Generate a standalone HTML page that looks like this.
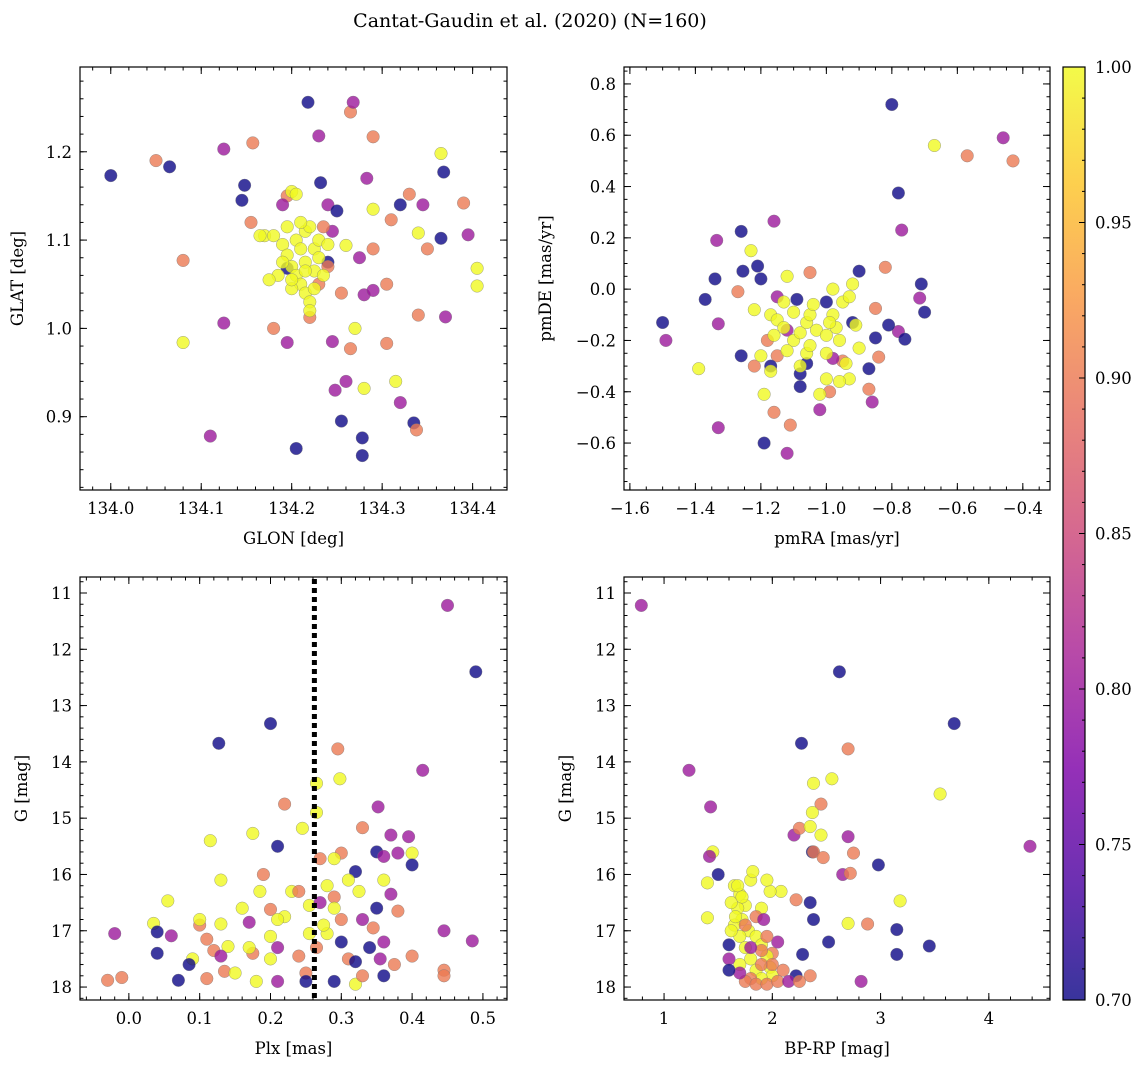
<!DOCTYPE html>
<html><head><meta charset="utf-8">
<style>
html,body{margin:0;padding:0;background:#fff;}
svg{display:block;font-family:"DejaVu Serif","Liberation Serif",serif;}
</style></head>
<body>
<svg id="fig" width="1148" height="1067" viewBox="0 0 1148 1067" xmlns="http://www.w3.org/2000/svg">
<defs>
<linearGradient id="plasma" x1="0" y1="1" x2="0" y2="0">
<stop offset="0" stop-color="#0d0887"/><stop offset="0.125" stop-color="#4c02a1"/>
<stop offset="0.25" stop-color="#7e03a8"/><stop offset="0.375" stop-color="#a92395"/>
<stop offset="0.5" stop-color="#cc4778"/><stop offset="0.625" stop-color="#e56b5d"/>
<stop offset="0.75" stop-color="#f89540"/><stop offset="0.875" stop-color="#fdc527"/>
<stop offset="1" stop-color="#f0f921"/>
</linearGradient>
</defs>
<text x="530" y="27" font-size="19" text-anchor="middle">Cantat-Gaudin et al. (2020) (N=160)</text>
</svg>
<script>
// ---------- data ----------
const p1_glon=[134.00,134.05,134.065,134.08,134.08,134.11,134.125,134.125,134.145,134.148,134.155,134.157,134.17,134.18,134.195,134.205,134.218,134.23,134.232,134.24,134.245,134.248,134.25,134.255,134.26,134.26,134.265,134.268,134.265,134.278,134.278,134.28,134.28,134.283,134.29,134.29,134.29,134.29,134.305,134.305,134.31,134.315,134.32,134.32,134.33,134.335,134.338,134.34,134.34,134.345,134.35,134.365,134.365,134.368,134.37,134.39,134.395,134.405,134.405,134.27,134.255,134.245,134.24,134.275,
134.195,134.235,134.24,134.195,134.23,134.22,134.19,
134.2,134.205,134.18,134.19,134.195,134.2,134.205,134.21,134.215,134.22,134.22,134.225,134.23,134.215,134.22,134.205,134.19,134.185,134.2,134.21,134.215,134.225,134.23,134.235,134.195,134.21,134.225,134.2,134.175,134.24,134.165,134.215];
const p1_glat=[1.173,1.19,1.183,1.077,0.984,0.878,1.203,1.006,1.145,1.162,1.12,1.21,1.105,1.0,0.984,0.864,1.256,1.218,1.165,1.14,0.985,0.93,1.133,0.895,0.94,1.094,1.245,1.256,0.977,0.856,0.876,0.932,1.038,1.17,1.043,1.09,1.135,1.217,0.983,1.05,1.123,0.94,0.916,1.14,1.152,0.893,0.885,1.015,1.108,1.14,1.09,1.102,1.198,1.177,1.013,1.142,1.106,1.068,1.048,1.0,1.04,1.11,1.075,1.08,
1.068,1.115,1.07,1.15,1.05,1.0125,1.14,
1.155,1.152,1.105,1.095,1.083,1.07,1.06,1.05,1.04,1.03,1.02,1.09,1.1,1.11,1.115,1.1,1.075,1.06,1.045,1.09,1.075,1.065,1.08,1.06,1.115,1.12,1.045,1.055,1.055,1.095,1.105,1.065];
const p1_prob=[0.7,0.9,0.7,0.9,1.0,0.8,0.8,0.8,0.7,0.7,0.9,0.9,1.0,0.9,0.8,0.7,0.7,0.8,0.7,0.8,0.8,0.8,0.7,0.7,0.8,1.0,0.9,0.8,0.9,0.7,0.7,1.0,0.8,0.8,0.8,0.9,1.0,0.9,0.9,0.9,0.9,1.0,0.8,0.7,0.9,0.7,0.9,0.9,1.0,0.8,0.9,0.7,1.0,0.7,0.8,0.9,0.8,1.0,1.0,1.0,0.9,0.8,0.7,0.8,
0.7,0.9,0.9,0.9,0.9,0.9,0.8,
1,1,1,1,1,1,1,1,1,1,1,1,1,1,1,1,1,1,1,1,1,1,1,1,1,1,1,1,1,1,1,1];

const p2_pmra=[-1.5,-1.49,-1.39,-1.37,-1.34,-1.335,-1.33,-1.33,-1.26,-1.26,-1.255,-1.27,-1.23,-1.21,-1.2,-1.22,-1.19,-1.16,-1.16,-1.12,-1.11,-1.08,-1.05,-1.02,-0.8,-0.78,-0.77,-0.67,-0.57,-0.46,-0.43,-0.82,-0.71,-0.715,-0.7,-0.78,-0.76,-0.81,-0.85,-0.85,-0.84,-0.87,-0.86,-0.87,-0.92,-0.9,-0.95,-0.98,-0.99,-1.0,-1.08,-1.06,-1.09,-1.12,-1.15,-1.17,-1.15,-1.18,
-1.22,-1.17,-1.15,-1.13,-1.1,-1.08,-1.06,-1.05,-1.03,-1.0,-0.98,-0.97,-0.96,-0.95,-0.93,-0.92,-0.9,-0.93,-1.0,-1.02,-1.06,-1.12,-1.17,-1.19,-1.12,-1.13,-1.05,-1.0,-0.94,-0.91,-0.98,-1.1,-1.04,-0.99,-1.16,-1.2,-0.96,-1.08];
const p2_pmde=[-0.13,-0.2,-0.31,-0.04,0.04,0.19,-0.135,-0.54,0.225,-0.26,0.07,-0.01,0.15,0.09,0.04,-0.3,-0.6,0.265,-0.48,-0.64,-0.53,-0.38,0.065,-0.47,0.72,0.375,0.23,0.56,0.52,0.59,0.5,0.085,0.02,-0.035,-0.09,-0.165,-0.195,-0.14,-0.075,-0.19,-0.265,-0.39,-0.44,-0.31,-0.13,0.07,-0.28,-0.27,-0.4,-0.05,-0.33,-0.29,-0.04,-0.16,-0.26,-0.3,-0.03,-0.2,
-0.08,-0.1,-0.12,-0.15,-0.2,-0.17,-0.13,-0.1,-0.16,-0.18,-0.1,-0.15,-0.2,-0.05,-0.03,0.02,-0.23,-0.35,-0.35,-0.41,-0.25,-0.24,-0.32,-0.41,0.05,-0.05,-0.22,-0.25,-0.29,-0.14,0.0,-0.09,-0.06,-0.13,-0.18,-0.26,-0.36,-0.3];
const p2_prob=[0.7,0.8,1,0.7,0.7,0.8,0.8,0.8,0.7,0.7,0.7,0.9,1,0.7,0.7,0.9,0.7,0.8,0.9,0.8,0.9,0.7,0.9,0.8,0.7,0.7,0.8,1,0.9,0.8,0.9,0.9,0.7,0.8,0.7,0.8,0.7,0.7,0.9,0.7,0.9,0.9,0.8,0.7,0.7,0.7,0.9,0.8,0.9,0.7,0.7,0.7,0.7,0.8,0.9,0.7,0.8,0.9,
1,1,1,1,1,1,1,1,1,1,1,1,1,1,1,1,1,1,1,1,1,1,1,1,1,1,1,1,1,1,1,1,1,1,1,1,1,1];

const p3_plx=[0.45,0.49,0.2,0.127,0.295,0.265,0.298,0.415,0.22,0.265,0.352,0.115,0.245,0.33,0.175,0.37,0.395,0.38,0.35,0.4,0.4,0.32,0.3,0.29,0.21,0.27,0.36,-0.02,-0.03,-0.01,0.035,0.04,0.04,0.055,0.06,0.07,0.09,0.085,0.1,0.11,0.11,0.12,0.13,0.13,0.135,0.14,0.15,0.16,0.17,0.175,0.18,0.185,0.19,0.2,0.2,0.21,0.21,0.22,0.23,0.24,0.25,0.25,0.255,0.27,0.28,0.29,0.3,0.3,0.31,0.32,0.32,0.325,0.33,0.34,0.345,0.35,0.355,0.36,0.37,0.375,0.38,0.4,0.445,0.445,0.445,0.485,0.255,0.265,0.28,0.29,0.31,0.24,0.33,0.36,0.21,0.275,0.29,0.17,0.13,0.1,0.36,0.2];
const p3_g=[11.22,12.4,13.32,13.67,13.77,14.38,14.3,14.15,14.75,14.9,14.8,15.4,15.18,15.17,15.27,15.3,15.33,15.62,15.6,15.62,15.83,15.95,15.62,15.72,15.5,15.72,15.68,17.05,17.88,17.83,16.87,17.02,17.4,16.47,17.09,17.88,17.5,17.6,16.9,17.15,17.85,17.35,16.1,16.88,17.72,17.28,17.75,16.6,16.85,17.4,17.9,16.3,16.0,16.62,17.1,17.3,17.9,16.75,16.3,17.45,17.75,17.9,16.55,16.5,16.2,16.4,16.8,17.2,17.5,17.55,17.95,16.3,16.8,17.3,16.95,16.6,17.5,17.2,16.35,17.6,16.65,17.45,17.0,17.7,17.8,17.18,17.05,17.3,17.05,16.6,16.1,16.3,17.8,17.8,16.8,16.9,17.9,17.3,17.45,16.8,16.1,17.5];
const p3_prob=[0.8,0.7,0.7,0.7,0.9,1,1,0.8,0.9,1,0.8,1,1,0.9,1,0.8,0.8,0.8,0.7,1,0.7,0.7,0.9,1,0.7,0.9,0.8,0.8,0.9,0.9,1,0.7,0.7,1,0.8,0.7,1,0.7,0.9,0.9,0.9,0.9,1,1,0.9,1,1,1,0.8,0.9,1,1,0.9,0.9,1,0.8,0.8,1,1,0.9,0.9,0.7,1,0.8,1,0.9,0.9,0.7,0.9,0.7,1,1,0.8,0.7,0.9,0.7,0.8,0.8,0.8,0.9,0.9,0.9,0.8,0.9,0.9,0.8,1,0.9,1,1,1,0.9,0.9,0.7,1,1,0.7,1,0.8,1,1,1];
const p3_plxMean=[0.262];

const p4_bprp=[0.79,2.62,3.68,2.27,2.7,1.23,2.38,2.55,3.55,1.43,2.45,2.37,2.2,2.25,2.35,2.45,2.7,4.38,1.45,1.42,2.37,2.38,2.47,2.75,2.98,2.65,2.72,3.18,2.22,2.35,2.38,2.08,1.4,1.4,2.7,2.88,3.15,3.45,2.52,3.15,2.0,2.28,2.82,2.35,2.22,2.05,1.5,1.6,
1.65,1.7,1.75,1.8,1.82,1.68,1.72,1.78,1.85,1.9,1.95,1.98,2.0,1.7,1.75,1.8,1.85,1.9,1.65,1.62,1.68,1.72,1.62,1.66,1.9,1.98,1.95,1.7,1.8,1.75,1.85,1.95,2.05,1.9,2.0,1.9,1.8,2.1,1.7,1.6,1.95,1.75,1.85,1.92,2.15,1.6,2.25];
const p4_g=[11.22,12.4,13.32,13.67,13.77,14.15,14.38,14.3,14.57,14.8,14.75,14.9,15.3,15.18,15.15,15.3,15.33,15.5,15.6,15.68,15.6,15.6,15.7,15.62,15.83,16.0,15.98,16.47,16.45,16.5,16.8,16.3,16.15,16.77,16.87,16.88,16.98,17.27,17.2,17.42,17.4,17.42,17.9,17.8,17.8,17.2,16.0,17.25,
16.2,16.35,16.55,16.1,15.95,16.6,16.8,17.0,17.1,17.25,17.45,17.65,17.8,17.1,17.3,17.5,17.7,17.85,16.9,16.5,16.2,16.4,17.0,16.75,16.6,16.3,16.1,17.6,17.85,17.9,17.95,17.95,17.9,17.6,17.6,17.35,17.3,17.7,17.75,17.5,17.1,16.9,16.75,16.8,17.9,17.7,17.9];
const p4_prob=[0.8,0.7,0.7,0.7,0.9,0.8,1,1,1,0.8,0.9,1,0.8,0.9,1,1,0.8,0.8,1,0.8,0.7,0.9,0.9,0.9,0.7,0.8,0.9,1,0.9,0.7,0.7,1,1,1,1,0.9,0.7,0.7,0.7,0.7,0.9,0.7,0.8,0.9,0.7,0.8,0.7,0.7,
1,1,1,1,1,1,1,1,1,1,1,1,1,1,1,1,1,1,1,1,1,1,1,1,1,1,1,1,0.9,0.9,0.9,0.9,0.9,0.9,0.9,0.9,0.8,0.9,0.8,0.8,0.9,0.9,0.9,0.8,0.8,0.7,0.9];

const cbTicks=[0.70,0.75,0.80,0.85,0.90,0.95,1.00];

// ---------- helpers ----------
const NS="http://www.w3.org/2000/svg";
const svg=document.getElementById('fig');
function mk(tag,attrs,parent){const e=document.createElementNS(NS,tag);for(const k in attrs)e.setAttribute(k,attrs[k]);(parent||svg).appendChild(e);return e;}
const stops=[[0,[13,8,135]],[0.125,[76,2,161]],[0.25,[126,3,168]],[0.375,[169,35,149]],[0.5,[204,71,120]],[0.625,[229,107,93]],[0.75,[248,149,64]],[0.875,[253,197,39]],[1,[240,249,33]]];
function plasma(p){let t=Math.max(0,Math.min(1,(p-0.7)/0.3));for(let i=1;i<stops.length;i++){if(t<=stops[i][0]){const a=stops[i-1],b=stops[i];const f=(t-a[0])/(b[0]-a[0]);const c=a[1].map((v,j)=>Math.round(v+(b[1][j]-v)*f));return `rgb(${c[0]},${c[1]},${c[2]})`;}}return 'rgb(240,249,33)';}
function lin(d0,d1,r0,r1){return v=>r0+(v-d0)/(d1-d0)*(r1-r0);}

function panel(cfg){
  const g=mk('g',{});
  
  
  const {x0,y0,x1,y1}=cfg;
  const X=lin(cfg.xd[0],cfg.xd[1],x0,x1), Y=lin(cfg.yd[0],cfg.yd[1],y1,y0);
  const pg=mk('g',{},g);
  
  
  for(let i=0;i<cfg.xs.length;i++){
    const c=mk('circle',{cx:X(cfg.xs[i]).toFixed(1),cy:Y(cfg.ys[i]).toFixed(1),r:6.3,fill:plasma(cfg.ps[i]),'fill-opacity':0.8,stroke:'#777','stroke-width':0.5,'stroke-opacity':0.7},pg);
    
    
  }
  if(cfg.extra)cfg.extra(g,X,Y);
  const fr=mk('rect',{x:x0,y:y0,width:x1-x0,height:y1-y0,fill:'none',stroke:'#000','stroke-width':1.2},g);
  
  
  const eps=1e-9;
  const xlo=Math.min(cfg.xd[0],cfg.xd[1]),xhi=Math.max(cfg.xd[0],cfg.xd[1]);
  const ylo=Math.min(cfg.yd[0],cfg.yd[1]),yhi=Math.max(cfg.yd[0],cfg.yd[1]);
  for(let v=Math.ceil(xlo/cfg.xmin)*cfg.xmin;v<=xhi+eps;v+=cfg.xmin){const px=X(v);mk('line',{x1:px,x2:px,y1:y1,y2:y1-3.5,stroke:'#000'},g);mk('line',{x1:px,x2:px,y1:y0,y2:y0+3.5,stroke:'#000'},g);}
  for(let v=Math.ceil(ylo/cfg.ymin)*cfg.ymin;v<=yhi+eps;v+=cfg.ymin){const py=Y(v);mk('line',{x1:x0,x2:x0+3.5,y1:py,y2:py,stroke:'#000'},g);mk('line',{x1:x1,x2:x1-3.5,y1:py,y2:py,stroke:'#000'},g);}
  cfg.xt.forEach(v=>{const px=X(v);mk('line',{x1:px,x2:px,y1:y1,y2:y1-7,stroke:'#000'},g);mk('line',{x1:px,x2:px,y1:y0,y2:y0+7,stroke:'#000'},g);
    const t=mk('text',{x:px,y:y1+24,'font-size':16.5,'text-anchor':'middle'},g);t.textContent=(v<0?'\u2212':'')+Math.abs(v).toFixed(cfg.xdec);
    });
  cfg.yt.forEach(v=>{const py=Y(v);mk('line',{x1:x0,x2:x0+7,y1:py,y2:py,stroke:'#000'},g);mk('line',{x1:x1,x2:x1-7,y1:py,y2:py,stroke:'#000'},g);
    const t=mk('text',{x:x0-8,y:py+6,'font-size':16.5,'text-anchor':'end'},g);t.textContent=(v<0?'\u2212':'')+Math.abs(v).toFixed(cfg.ydec);
    });
  const xl=mk('text',{x:(x0+x1)/2,y:y1+54,'font-size':16.5,'text-anchor':'middle'},g);xl.textContent=cfg.xlabel;
  
  const yl=mk('text',{x:cfg.ylx,y:(y0+y1)/2,'font-size':16.5,'text-anchor':'middle',transform:`rotate(-90 ${cfg.ylx} ${(y0+y1)/2})`},g);yl.textContent=cfg.ylabel;
  
}

panel({name:'glon-glat-panel',x0:80,y0:67,x1:507,y1:490,xd:[133.966,134.438],yd:[0.817,1.296],
  xs:p1_glon,ys:p1_glat,ps:p1_prob,xt:[134.0,134.1,134.2,134.3,134.4],yt:[0.9,1.0,1.1,1.2],xdec:1,ydec:1,xmin:0.02,ymin:0.02,
  xlabel:'GLON [deg]',ylabel:'GLAT [deg]',ylx:23});
panel({name:'proper-motion-panel',x0:624,y0:67,x1:1050,y1:490,xd:[-1.618,-0.317],yd:[-0.783,0.866],
  xs:p2_pmra,ys:p2_pmde,ps:p2_prob,xt:[-1.6,-1.4,-1.2,-1.0,-0.8,-0.6,-0.4],yt:[-0.6,-0.4,-0.2,0.0,0.2,0.4,0.6,0.8],xdec:1,ydec:1,xmin:0.05,ymin:0.05,
  xlabel:'pmRA [mas/yr]',ylabel:'pmDE [mas/yr]',ylx:551});
panel({name:'parallax-magnitude-panel',x0:80,y0:577,x1:507,y1:1000,xd:[-0.069,0.534],yd:[18.23,10.716],
  xs:p3_plx,ys:p3_g,ps:p3_prob,xt:[0.0,0.1,0.2,0.3,0.4,0.5],yt:[11,12,13,14,15,16,17,18],xdec:1,ydec:0,xmin:0.02,ymin:0.2,
  xlabel:'Plx [mas]',ylabel:'G [mag]',ylx:27,
  extra:(g,X,Y)=>{p3_plxMean.forEach(v=>{const l=mk('line',{x1:X(v),x2:X(v),y1:579,y2:1000,stroke:'#000','stroke-width':5,'stroke-dasharray':'5 4'},g);
    });}});
panel({name:'color-magnitude-panel',x0:624,y0:577,x1:1050,y1:1000,xd:[0.63,4.565],yd:[18.23,10.716],
  xs:p4_bprp,ys:p4_g,ps:p4_prob,xt:[1,2,3,4],yt:[11,12,13,14,15,16,17,18],xdec:0,ydec:0,xmin:0.2,ymin:0.2,
  xlabel:'BP-RP [mag]',ylabel:'G [mag]',ylx:571});

const cb=mk('g',{});


const cbx0=1063,cbx1=1085,cby0=67,cby1=1000;
mk('rect',{x:cbx0,y:cby0,width:cbx1-cbx0,height:cby1-cby0,fill:'url(#plasma)','fill-opacity':0.82},cb);
mk('rect',{x:cbx0,y:cby0,width:cbx1-cbx0,height:cby1-cby0,fill:'none',stroke:'#000','stroke-width':1.2},cb);
const CY=lin(0.7,1.0,cby1,cby0);
for(let v=0.70;v<=1.0001;v+=0.01){mk('line',{x1:cbx1,x2:cbx1-3,y1:CY(v),y2:CY(v),stroke:'#000'},cb);}
cbTicks.forEach(v=>{mk('line',{x1:cbx1,x2:cbx1-6,y1:CY(v),y2:CY(v),stroke:'#000'},cb);
  const t=mk('text',{x:cbx1+10,y:CY(v)+6,'font-size':16.5},cb);t.textContent=v.toFixed(2);
  });
</script>
</body></html>
